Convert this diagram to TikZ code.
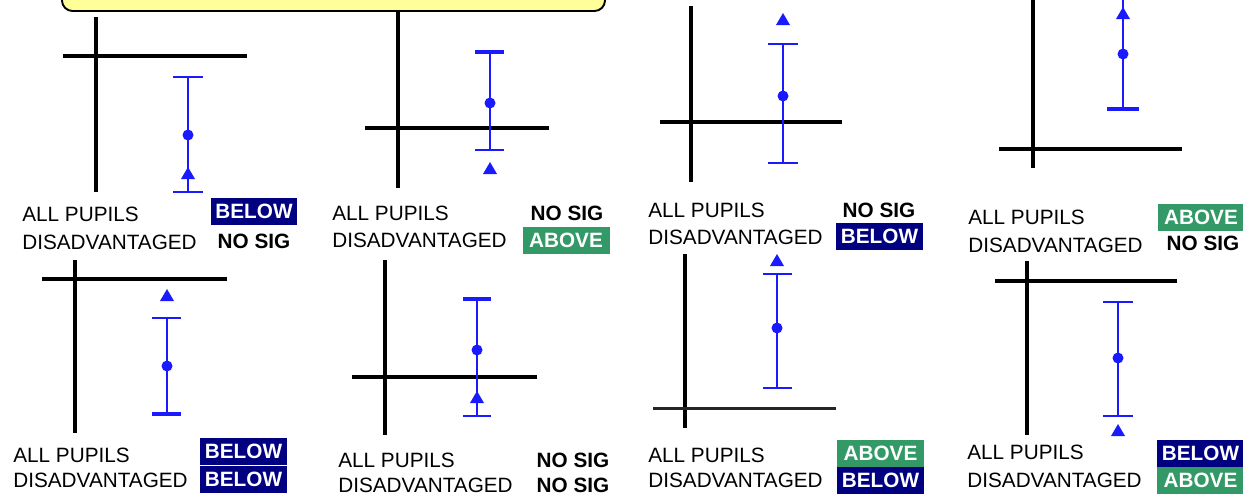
\documentclass[tikz,border=0pt]{standalone}
\usepackage{fontspec}
\setmainfont{Liberation Sans}
\usepackage{xcolor}
\usepackage{tikz}

\definecolor{barblue}{HTML}{1A1AFF}
\definecolor{navybox}{HTML}{000080}
\definecolor{greenbox}{HTML}{339966}
\definecolor{notefill}{HTML}{FFFF99}

\tikzset{tri/.pic={\fill[barblue] (-7,6) -- (7,6) -- (0,-6) -- cycle;}}

\begin{document}
\begin{tikzpicture}[x=0.02cm,y=-0.02cm,
    axis/.style={line width=2.2pt},
    bar/.style={draw=barblue,line width=1.4pt},
    thickcap/.style={draw=barblue,line width=2.3pt},
    lbl/.style={anchor=west,inner sep=0pt,font=\fontsize{11.8}{14}\selectfont},
    nosig/.style={inner sep=0pt,font=\fontsize{11.8}{14}\selectfont\bfseries},
    resbox/.style={inner sep=0pt,minimum width=1.74cm,minimum height=0.54cm,
        text=white,font=\fontsize{11.8}{14}\selectfont\bfseries},
    belowbox/.style={resbox,fill=navybox},
    abovebox/.style={resbox,fill=greenbox}]
            \useasboundingbox (0,0) rectangle (1243,494);

            % Note box (cut off at the top)
            \draw[fill=notefill,line width=1.1pt,rounded corners=6] (62,-40) rectangle (605,11);

            % Panel 1
            \draw[axis] (96,17) -- (96,192);
            \draw[axis] (63,56) -- (247,56);
            \draw[bar] (188,77) -- (188,192) (173,77) -- (203,77) (173,192) -- (203,192);
            \fill[barblue] (188,135) circle[radius=5.5];
            \pic at (188,173) {tri};
            \node[lbl] (allA) at (22,214) {ALL PUPILS};
            \node[lbl] (disA) at (22,242) {DISADVANTAGED};
            \node[belowbox] (resA1) at (254,211) {BELOW};
            \node[nosig] (resA2) at (254,241) {NO SIG};

            % Panel 2
            \draw[axis] (398,11) -- (398,188);
            \draw[axis] (365,128) -- (549,128);
            \draw[bar] (490,52) -- (490,150) (475,150) -- (504,150);
            \draw[thickcap] (475,52) -- (504,52);
            \fill[barblue] (490,103) circle[radius=5.5];
            \pic at (490,168) {tri};
            \node[lbl] (allB) at (332,213) {ALL PUPILS};
            \node[lbl] (disB) at (332,240) {DISADVANTAGED};
            \node[nosig] (resB1) at (567,213) {NO SIG};
            \node[abovebox] (resB2) at (566,240) {ABOVE};

            % Panel 3
            \draw[axis] (691,6) -- (691,182);
            \draw[line width=2.8pt] (660,122) -- (842,122);
            \draw[bar] (783,44) -- (783,163) (768,44) -- (798,44) (768,163) -- (798,163);
            \fill[barblue] (783,96) circle[radius=5.5];
            \pic at (783,19) {tri};
            \node[lbl] (allC) at (648,210) {ALL PUPILS};
            \node[lbl] (disC) at (648,237) {DISADVANTAGED};
            \node[nosig] (resC1) at (879,210) {NO SIG};
            \node[belowbox] (resC2) at (879.5,236) {BELOW};

            % Panel 4
            \draw[axis] (1033,-5) -- (1033,168);
            \draw[axis] (999,149) -- (1182,149);
            \draw[bar] (1123,-5) -- (1123,109);
            \draw[thickcap] (1107,109) -- (1139,109);
            \fill[barblue] (1123,54) circle[radius=5.5];
            \pic at (1123,13) {tri};
            \node[lbl] (allD) at (968,217) {ALL PUPILS};
            \node[lbl] (disD) at (968,245) {DISADVANTAGED};
            \node[abovebox] (resD1) at (1201,217) {ABOVE};
            \node[nosig] (resD2) at (1203,243) {NO SIG};

            % Panel 5
            \draw[axis] (75,260) -- (75,433);
            \draw[axis] (42,279) -- (227,279);
            \draw[bar] (167,318) -- (167,414) (152,318) -- (181,318);
            \draw[thickcap] (152,414) -- (181,414);
            \fill[barblue] (167,366) circle[radius=5.5];
            \pic at (167,295) {tri};
            \node[lbl] (allE) at (13,455) {ALL PUPILS};
            \node[lbl] (disE) at (13,480) {DISADVANTAGED};
            \node[belowbox] (resE1) at (243.5,451) {BELOW};
            \node[belowbox] (resE2) at (243.5,479) {BELOW};

            % Panel 6
            \draw[axis] (385,260) -- (385,435);
            \draw[axis] (352,377) -- (537,377);
            \draw[bar] (477,299) -- (477,416) (463,416) -- (491,416);
            \draw[thickcap] (463,299) -- (491,299);
            \fill[barblue] (477,350) circle[radius=5.5];
            \pic at (477,397) {tri};
            \node[lbl] (allF) at (338,460) {ALL PUPILS};
            \node[lbl] (disF) at (338,485) {DISADVANTAGED};
            \node[nosig] (resF1) at (573,460) {NO SIG};
            \node[nosig] (resF2) at (573,485) {NO SIG};

            % Panel 7
            \draw[axis] (685,254) -- (685,428);
            \draw[line width=1.7pt,black!85] (653,408) -- (836,408);
            \draw[bar] (777,274) -- (777,388) (763,274) -- (792,274) (763,388) -- (792,388);
            \fill[barblue] (777,328) circle[radius=5.5];
            \pic at (777,260) {tri};
            \node[lbl] (allG) at (648,455) {ALL PUPILS};
            \node[lbl] (disG) at (648,480) {DISADVANTAGED};
            \node[abovebox] (resG1) at (880.5,453) {ABOVE};
            \node[belowbox] (resG2) at (880.5,480) {BELOW};

            % Panel 8
            \draw[axis] (1027,261) -- (1027,435);
            \draw[axis] (995,281) -- (1177,281);
            \draw[bar] (1118,302) -- (1118,416) (1103,302) -- (1133,302) (1103,416) -- (1133,416);
            \fill[barblue] (1118,358) circle[radius=5.5];
            \pic at (1118,430) {tri};
            \node[lbl] (allH) at (967,452) {ALL PUPILS};
            \node[lbl] (disH) at (967,480) {DISADVANTAGED};
            \node[belowbox] (resH1) at (1200.5,453) {BELOW};
            \node[abovebox] (resH2) at (1200.5,480) {ABOVE};
        \end{tikzpicture}
\end{document}
